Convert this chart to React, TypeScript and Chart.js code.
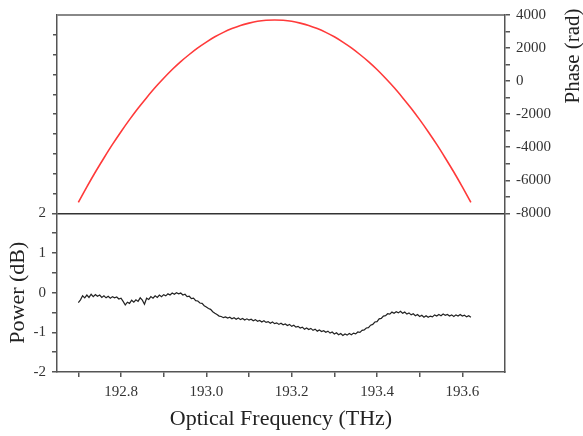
import React, { useEffect, useRef } from "react";
import { Chart, registerables } from "chart.js";

Chart.register(...registerables);

// Sampling grid for the power trace (THz)
const powerStart = 192.7;
const powerStep = 0.005;
// Power (dB)
const powerValues = [
  -0.25, -0.18, -0.08, -0.13, -0.06, -0.12, -0.04, -0.1, -0.05, -0.09,
  -0.06, -0.12, -0.08, -0.13, -0.09, -0.14, -0.1, -0.13, -0.11, -0.16,
  -0.14, -0.22, -0.31, -0.24, -0.27, -0.19, -0.24, -0.18, -0.22, -0.13,
  -0.19, -0.29, -0.14, -0.17, -0.1, -0.14, -0.08, -0.12, -0.06, -0.1,
  -0.05, -0.08, -0.03, -0.06, -0.01, -0.04, 0.0, -0.03, -0.01, -0.06,
  -0.04, -0.1, -0.09, -0.15, -0.14, -0.2, -0.21, -0.26, -0.27, -0.33,
  -0.36, -0.4, -0.42, -0.48, -0.52, -0.55, -0.59, -0.6, -0.63, -0.61,
  -0.64, -0.62, -0.66, -0.63, -0.67, -0.64, -0.68, -0.65, -0.69, -0.66,
  -0.69, -0.67, -0.71, -0.68, -0.72, -0.7, -0.74, -0.71, -0.75, -0.73,
  -0.77, -0.74, -0.78, -0.76, -0.8, -0.77, -0.81, -0.79, -0.83, -0.8,
  -0.85, -0.82, -0.87, -0.85, -0.89, -0.87, -0.92, -0.89, -0.93, -0.9,
  -0.95, -0.92, -0.97, -0.94, -0.98, -0.96, -1.0, -0.97, -1.02, -0.99,
  -1.04, -1.01, -1.06, -1.03, -1.08, -1.04, -1.07, -1.03, -1.06, -1.02,
  -1.04, -0.99, -1.0, -0.95, -0.94, -0.89, -0.88, -0.82, -0.8, -0.74,
  -0.73, -0.66, -0.65, -0.59, -0.58, -0.53, -0.54, -0.49, -0.52, -0.48,
  -0.51, -0.47, -0.52, -0.49, -0.54, -0.51, -0.56, -0.53, -0.58, -0.55,
  -0.6, -0.57, -0.62, -0.58, -0.62, -0.59, -0.61, -0.56, -0.59, -0.55,
  -0.58, -0.54, -0.57, -0.55, -0.59, -0.56, -0.6, -0.56, -0.59, -0.55,
  -0.59, -0.57, -0.61, -0.58, -0.62,
];

// Phase trace (rad)
const phaseFreqs = [
  192.7, 192.72, 192.74, 192.76, 192.78, 192.8, 192.82, 192.84, 192.86, 192.88,
  192.9, 192.92, 192.94, 192.96, 192.98, 193.0, 193.02, 193.04, 193.06, 193.08,
  193.1, 193.12, 193.14, 193.16, 193.18, 193.2, 193.22, 193.24, 193.26, 193.28,
  193.3, 193.32, 193.34, 193.36, 193.38, 193.4, 193.42, 193.44, 193.46, 193.48,
  193.5, 193.52, 193.54, 193.56, 193.58, 193.6, 193.62,
];
const phaseValues = [
  -7340, -6400, -5500, -4650, -3830, -3060, -2330, -1640, -1000, -390,
  170, 700, 1180, 1610, 2010, 2360, 2680, 2950, 3180, 3370,
  3510, 3620, 3680, 3700, 3680, 3620, 3510, 3370, 3180, 2950,
  2680, 2360, 2010, 1610, 1180, 700, 170, -390, -1000, -1640,
  -2330, -3060, -3830, -4650, -5500, -6400, -7340,
];

const xMin = 192.65;
const xMax = 193.7;
const powerMin = -2;
const powerMax = 2;
const phaseMin = -8000;
const phaseMax = 4000;

const xTitle = "Optical Frequency (THz)";
const powerTitle = "Power (dB)";
const phaseTitle = "Phase (rad)";

const FONT = "'Liberation Serif', 'Times New Roman', serif";
const AXIS = "#555";
const TEXT = "#333";

export default function App() {
  const ref = useRef<HTMLCanvasElement | null>(null);

  useEffect(() => {
    if (!ref.current) return;
    const powerData = powerValues.map((y, i) => ({ x: powerStart + i * powerStep, y }));
    const phaseData = phaseValues.map((y, i) => ({ x: phaseFreqs[i], y }));

    const rightTitle = {
      id: "rightTitle",
      afterDraw(chart: any) {
        const { ctx } = chart;
        ctx.save();
        ctx.translate(573, 56);
        ctx.rotate(-Math.PI / 2);
        ctx.font = `21px ${FONT}`;
        ctx.fillStyle = "#222";
        ctx.textAlign = "center";
        ctx.textBaseline = "middle";
        ctx.fillText(phaseTitle, 0, 0);
        ctx.restore();
      },
    };

    const tickFont = { family: FONT, size: 15 };

    const chart = new Chart(ref.current, {
      type: "line",
      data: {
        datasets: [
          {
            data: phaseData,
            yAxisID: "yPhase",
            borderColor: "#ff3a3a",
            borderWidth: 1.6,
            pointRadius: 0,
            tension: 0.3,
          },
          {
            data: powerData,
            yAxisID: "yPower",
            borderColor: "#222",
            borderWidth: 1.2,
            pointRadius: 0,
            tension: 0,
          },
        ],
      },
      options: {
        responsive: false,
        animation: false,
        layout: { padding: { top: 13, left: 0, right: 0, bottom: 0 } },
        plugins: { legend: { display: false }, tooltip: { enabled: false } },
        scales: {
          x: {
            type: "linear",
            position: "bottom",
            min: xMin,
            max: xMax,
            afterFit: (s: any) => { s.height = 64; },
            grid: { drawOnChartArea: false, drawTicks: true, tickLength: 5, color: AXIS, lineWidth: 1.5 },
            border: { display: true, color: AXIS, width: 1.5 },
            ticks: {
              stepSize: 0.1,
              includeBounds: false,
              autoSkip: false,
              maxRotation: 0,
              padding: 6,
              color: TEXT,
              font: tickFont,
              callback: (v: any) => {
                const k = Math.round(Number(v) * 10);
                return k % 2 === 0 ? (k / 10).toFixed(1) : "";
              },
            },
            title: { display: true, text: xTitle, color: "#222", font: { family: FONT, size: 22 }, padding: { top: 4, bottom: 4 } },
          },
          yPower: {
            type: "linear",
            position: "left",
            stack: "L",
            stackWeight: 4,
            min: powerMin,
            max: powerMax,
            afterFit: (s: any) => { s.width = 57; },
            grid: {
              drawOnChartArea: true,
              drawTicks: true,
              tickLength: 5,
              color: (c: any) => (c.tick && c.tick.value === powerMax ? "#333" : "rgba(0,0,0,0)"),
              tickColor: AXIS,
              lineWidth: 1.5,
            },
            border: { display: true, color: AXIS, width: 1.5 },
            ticks: {
              stepSize: 0.5,
              autoSkip: false,
              padding: 6,
              color: TEXT,
              font: tickFont,
              callback: (v: any) => (Number.isInteger(Number(v)) ? String(v) : ""),
            },
            title: { display: true, text: powerTitle, color: "#222", font: { family: FONT, size: 22 }, padding: { top: 5, bottom: 0 } },
          },
          yTop: {
            type: "linear",
            position: "left",
            stack: "L",
            stackWeight: 5,
            min: 2,
            max: 7,
            afterFit: (s: any) => { s.width = 57; },
            grid: {
              drawOnChartArea: true,
              drawTicks: true,
              tickLength: 4,
              color: (c: any) => (c.tick && c.tick.value === 7 ? "#888" : "rgba(0,0,0,0)"),
              tickColor: (c: any) => (c.tick && (c.tick.value === 7 || c.tick.value === 2) ? "rgba(0,0,0,0)" : AXIS),
              lineWidth: (c: any) => (c.tick && c.tick.value === 7 ? 2 : 1.5),
            },
            border: { display: true, color: AXIS, width: 1.5 },
            ticks: { stepSize: 0.5, autoSkip: false, callback: () => "" },
          },
          yPhase: {
            type: "linear",
            position: "right",
            stack: "R",
            stackWeight: 5,
            min: phaseMin,
            max: phaseMax,
            afterFit: (s: any) => { s.width = 78; },
            grid: { drawOnChartArea: false, drawTicks: true, tickLength: 5, color: AXIS, lineWidth: 1.5 },
            border: { display: true, color: AXIS, width: 1.5 },
            ticks: {
              stepSize: 1000,
              autoSkip: false,
              padding: 6,
              color: TEXT,
              font: tickFont,
              callback: (v: any) => (Number(v) % 2000 === 0 ? String(v) : ""),
            },
          },
          yBot: {
            type: "linear",
            position: "right",
            stack: "R",
            stackWeight: 4,
            min: 0,
            max: 1,
            afterFit: (s: any) => { s.width = 78; },
            grid: { display: false },
            border: { display: true, color: AXIS, width: 1.5 },
            ticks: { display: false },
          },
        },
      } as any,
      plugins: [rightTitle],
    });
    return () => chart.destroy();
  }, []);

  return (
    <div style={{ position: "absolute", left: 0, top: 0, width: 583, height: 436, background: "#fff" }}>
      <canvas ref={ref} width={583} height={436} style={{ width: 583, height: 436 }} />
    </div>
  );
}
